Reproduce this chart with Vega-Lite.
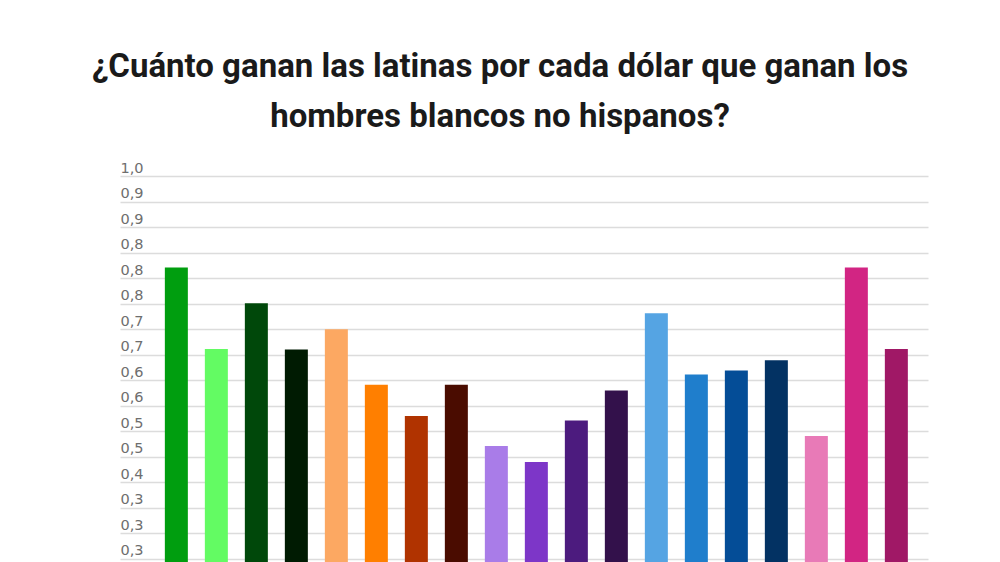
{
  "$schema": "https://vega.github.io/schema/vega-lite/v6.json",
  "autosize": {"type": "none"},
  "width": 808,
  "height": 386,
  "padding": {"left": 120, "top": 176, "right": 72, "bottom": 0},
  "title": {
    "text": ["¿Cuánto ganan las latinas por cada dólar que ganan los", "hombres blancos no hispanos?"],
    "font": "Roboto",
    "fontSize": 33,
    "fontWeight": "bold",
    "color": "#1a1a1a",
    "lineHeight": 50,
    "anchor": "middle",
    "frame": "group",
    "dx": -24,
    "offset": 26
  },
  "data": {
    "values": [
      {"grupo": "g01", "valor": 0.821, "color": "#009e0f"},
      {"grupo": "g02", "valor": 0.661, "color": "#63fb63"},
      {"grupo": "g03", "valor": 0.751, "color": "#00480a"},
      {"grupo": "g04", "valor": 0.660, "color": "#001b02"},
      {"grupo": "g05", "valor": 0.700, "color": "#fca862"},
      {"grupo": "g06", "valor": 0.591, "color": "#ff7f00"},
      {"grupo": "g07", "valor": 0.530, "color": "#b03300"},
      {"grupo": "g08", "valor": 0.591, "color": "#4a0c00"},
      {"grupo": "g09", "valor": 0.471, "color": "#a97ce8"},
      {"grupo": "g10", "valor": 0.440, "color": "#7d36c8"},
      {"grupo": "g11", "valor": 0.521, "color": "#4c1b7e"},
      {"grupo": "g12", "valor": 0.580, "color": "#33114b"},
      {"grupo": "g13", "valor": 0.731, "color": "#55a4e3"},
      {"grupo": "g14", "valor": 0.611, "color": "#1f7ecc"},
      {"grupo": "g15", "valor": 0.619, "color": "#044d97"},
      {"grupo": "g16", "valor": 0.639, "color": "#033263"},
      {"grupo": "g17", "valor": 0.491, "color": "#e87ab7"},
      {"grupo": "g18", "valor": 0.821, "color": "#d22583"},
      {"grupo": "g19", "valor": 0.661, "color": "#a01866"}
    ]
  },
  "mark": {"type": "bar", "clip": true},
  "encoding": {
    "x": {
      "field": "grupo",
      "type": "nominal",
      "sort": null,
      "scale": {"paddingInner": 0.425, "paddingOuter": 0.8125, "align": 0.69},
      "axis": null
    },
    "y": {
      "field": "valor",
      "type": "quantitative",
      "scale": {"domain": [0.244, 1.0], "zero": false, "nice": false},
      "axis": {
        "title": null,
        "values": [1.0, 0.95, 0.9, 0.85, 0.8, 0.75, 0.7, 0.65, 0.6, 0.55, 0.5, 0.45, 0.4, 0.35, 0.3, 0.25],
        "labelExpr": "['1,0','0,9','0,9','0,8','0,8','0,8','0,7','0,7','0,6','0,6','0,5','0,5','0,4','0,3','0,3','0,3'][round((1 - datum.value) * 20)]",
        "domain": false,
        "ticks": false,
        "grid": true,
        "gridColor": "#dcdcdc",
        "gridWidth": 1.5,
        "labelAlign": "left",
        "labelBaseline": "alphabetic",
        "labelPadding": 0,
        "labelOffset": -4,
        "labelFont": "DejaVu Sans",
        "labelFontSize": 14.5,
        "labelColor": "#6e6e6e"
      }
    },
    "y2": {"datum": 0},
    "color": {"field": "color", "type": "nominal", "scale": null, "legend": null}
  },
  "config": {"view": {"stroke": null}}
}
